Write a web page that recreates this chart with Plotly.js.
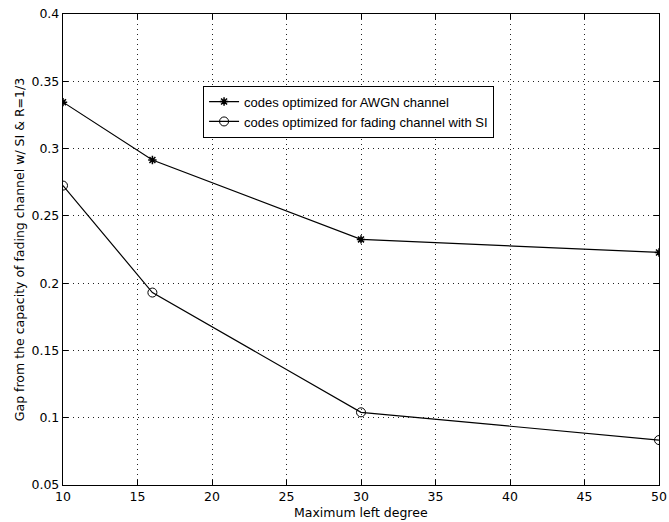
<!DOCTYPE html>
<html>
<head>
<meta charset="utf-8">
<script src="https://cdn.plot.ly/plotly-3.0.1.min.js"></script>
<style>html,body{margin:0;padding:0;background:#fff;}#chart{width:669px;height:522px;}</style>
</head>
<body>
<div id="chart"></div>
<script>
const maxLeftDegree = [10, 16, 30, 50];
const awgnGap = [0.3345, 0.2915, 0.2325, 0.2228];
const fadingGap = [0.2725, 0.193, 0.104, 0.0834];
const seriesNames = ['codes optimized for AWGN channel', 'codes optimized for fading channel with SI'];
const xTicks = [10, 15, 20, 25, 30, 35, 40, 45, 50];
const yTicks = [0.05, 0.1, 0.15, 0.2, 0.25, 0.3, 0.35, 0.4];
const yTickText = ['0.05', '0.1', '0.15', '0.2', '0.25', '0.3', '0.35', '0.4'];
const xTitle = 'Maximum left degree';
const yTitle = 'Gap from the capacity of fading channel w/ SI & R=1/3';

const fam = 'DejaVu Sans, Arial, sans-serif';
const tickFont = {family: fam, size: 12.5, color: '#000'};

const traces = [
  {x: maxLeftDegree, y: awgnGap, name: seriesNames[0], mode: 'lines+markers',
   line: {color: '#000', width: 1.2},
   marker: {symbol: 'asterisk-open', size: 7, color: '#000', line: {color: '#000', width: 1.5}}},
  {x: maxLeftDegree, y: fadingGap, name: seriesNames[1], mode: 'lines+markers',
   line: {color: '#000', width: 1.2},
   marker: {symbol: 'circle-open', size: 9, color: '#000', line: {color: '#000', width: 1}}}
];

const axisCommon = {
  showline: true, linecolor: '#000', linewidth: 1.2, mirror: 'ticks',
  ticks: 'inside', ticklen: 5, tickcolor: '#000',
  showgrid: true, gridcolor: '#222', gridwidth: 1, griddash: '1px,4px',
  zeroline: false, tickfont: tickFont
};

const layout = {
  width: 669, height: 522,
  margin: {l: 63, r: 10, t: 14, b: 37},
  paper_bgcolor: '#fff', plot_bgcolor: '#fff',
  font: tickFont,
  showlegend: true,
  legend: {x: 0.235, y: 0.848, xanchor: 'left', yanchor: 'top',
           bgcolor: '#fff', bordercolor: '#000', borderwidth: 1,
           font: {family: 'Liberation Sans, Arial, sans-serif', size: 13, color: '#000'},
           tracegroupgap: 0, itemwidth: 30},
  xaxis: Object.assign({}, axisCommon, {
    range: [10, 50], tickvals: xTicks, ticktext: xTicks.map(String), ticklabelstandoff: 0
  }),
  yaxis: Object.assign({}, axisCommon, {
    range: [0.05, 0.4], tickvals: yTicks, ticktext: yTickText,
    title: {text: yTitle, font: {family: fam, size: 12.5, color: '#000'}, standoff: 4}
  }),
  annotations: [{
    text: xTitle, xref: 'paper', yref: 'paper', x: 0.5, y: 0,
    xanchor: 'center', yanchor: 'top', yshift: -19, showarrow: false, borderpad: 0,
    font: {family: fam, size: 12.5, color: '#000'}
  }]
};

Plotly.newPlot('chart', traces, layout, {displayModeBar: false, staticPlot: true});
</script>
</body>
</html>
